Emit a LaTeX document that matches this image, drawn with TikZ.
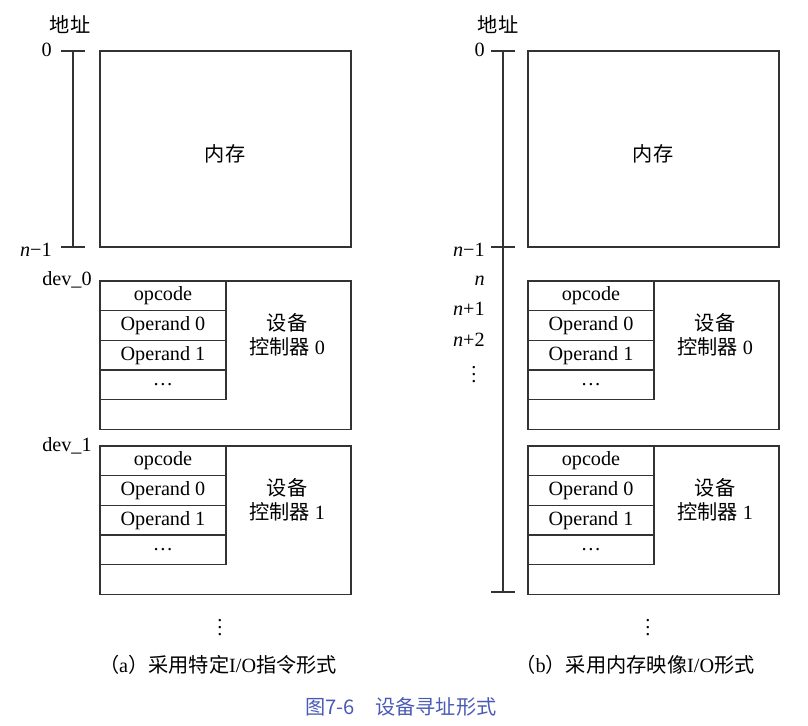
\documentclass[tikz,border=0pt]{standalone}
\usepackage{fontspec}
\setmainfont{Liberation Serif}
\newfontfamily\cjk{Noto Sans CJK SC}
\newcommand{\zh}[1]{{\cjk #1}}
\usetikzlibrary{positioning}
\definecolor{capblue}{RGB}{75,91,181}
\tikzset{
  membox/.style={
    draw=black!80,
    line width=0.8pt,
    outer sep=0,
    minimum width=5.02cm,
    minimum height=3.92cm
  },
  devbox/.style={
    draw=black!80,
    line width=0.8pt,
    outer sep=0,
    minimum width=5.02cm,
    minimum height=2.97cm
  },
  cell/.style={
    draw=black!80,
    line width=0.8pt,
    outer sep=0,
    inner sep=0,
    minimum width=2.52cm,
    minimum height=0.594cm
  },
  addr/.style={
    anchor=base east,
    inner sep=0
  },
  axis/.style={
    draw=black!80,
    line width=0.8pt
  }
}

\begin{document}
\begin{tikzpicture}[x=0.02cm, y=-0.02cm, font=\fontsize{11.5}{13.6}\selectfont]
    \useasboundingbox (0,0) rectangle (808,726);
    % memory and the two device controllers, once per panel
    \foreach \p/\dx in {a/0,b/428}{
        \begin{scope}[shift={(\dx,0)}]
            \node[membox, anchor=north west] (mem-\p) at (100,51) {};
            \node (memtxt-\p) at (225,154) {\zh{内存}};
            \foreach \d/\y in {0/281,1/446}{
                \node[devbox, anchor=north west] (dev\d-\p) at (100,\y) {};
                \node[cell, anchor=north west] (op\d-\p) at (dev\d-\p.north west) {opcode};
                \node[cell, below=0pt of op\d-\p] (ra\d-\p) {Operand 0};
                \node[cell, below=0pt of ra\d-\p] (rb\d-\p) {Operand 1};
                \node[cell, below=0pt of rb\d-\p] (rc\d-\p) {\dots};
                \node[align=center] (ctl\d-\p) at (287,\y+54) {\zh{设备}\\\zh{控制器} \d};
            }
            \node[inner sep=0] (more-\p) at (220,622) {$\vdots$};
        \end{scope}
    }
    % (a) address axis
    \node (head-a) at (70,25) {\zh{地址}};
    \coordinate (ta-top) at (73,51);
    \coordinate (ta-bot) at (73,247);
    \draw[axis] (ta-top) -- (ta-bot);
    \foreach \c in {ta-top,ta-bot}
        \draw[axis] (\c) ++(-12,0) -- ++(24,0);
    \node[addr] (a-0) at (52,57) {0};
    \node[addr] (a-n) at (52,256) {\textit{n}−1};
    \node[addr] (dev0-lab) at (92,286) {dev\_0};
    \node[addr] (dev1-lab) at (92,451) {dev\_1};
    % (b) address axis
    \node (head-b) at (498,25) {\zh{地址}};
    \coordinate (tb-top) at (503,51);
    \coordinate (tb-mid) at (503,247);
    \coordinate (tb-bot) at (503,592);
    \draw[axis] (tb-top) -- (tb-bot);
    \foreach \c in {tb-top,tb-mid,tb-bot}
        \draw[axis] (\c) ++(-12,0) -- ++(24,0);
    \node[addr] (b-0) at (485,57) {0};
    \node[addr] (b-n) at (485,256) {\textit{n}−1};
    \node[addr] (b-n0) at (485,286) {\textit{n}};
    \node[addr] (b-n1) at (485,316) {\textit{n}+1};
    \node[addr] (b-n2) at (485,346) {\textit{n}+2};
    \node[inner sep=0] (b-more) at (474,369) {$\vdots$};
    % captions
    \node (cap-a) at (218,665) {\zh{（}a\zh{）采用特定}I/O\zh{指令形式}};
    \node (cap-b) at (635,665) {\zh{（}b\zh{）采用内存映像}I/O\zh{形式}};
    \node[text=capblue] (fig) at (401,707) {\zh{图7-6\quad 设备寻址形式}};
\end{tikzpicture}
\end{document}
